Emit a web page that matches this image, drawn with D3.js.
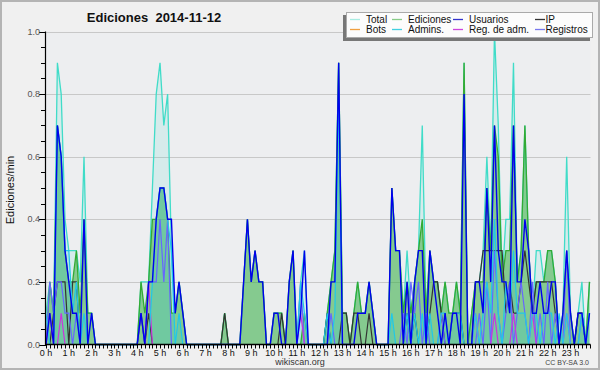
<!DOCTYPE html>
<html><head><meta charset="utf-8">
<script src="https://cdn.jsdelivr.net/npm/d3@7/dist/d3.min.js"></script>
<style>
html,body{margin:0;padding:0;background:#f0f0f0;}
svg{display:block;font-family:"Liberation Sans",Arial,sans-serif;}
</style>
</head><body>
<svg id="c" width="600" height="370"></svg>
<script>
const title = "Ediciones  2014-11-12";
const yLabel = "Ediciones/min";
const footer = "wikiscan.org";
const license = "CC BY-SA 3.0";
const hourLabels = d3.range(24).map(h => h + " h");
const yTickLabels = [0, 0.2, 0.4, 0.6, 0.8, 1.0];
const legendNames = ["Total", "Ediciones", "Usuarios", "IP", "Bots", "Admins.", "Reg. de adm.", "Registros"];

// 10-minute slots, one row per hour
const total = [
 0.1,0.2,0.1,0.9,0.8,0.4,
 0.3,0.3,0.3,0.2,0.6,0.1,
 0.1,0,0,0,0,0,
 0,0,0,0,0,0,
 0,0.2,0.2,0.2,0.5,0.8,
 0.9,0.7,0.8,0.3,0.1,0.2,
 0.1,0,0,0,0,0,
 0,0,0,0,0,0.1,
 0,0,0,0,0.2,0.4,
 0.2,0.3,0.2,0.2,0,0,
 0.1,0.1,0.1,0,0.2,0.3,
 0,0.2,0.3,0,0,0,
 0,0,0.1,0.2,0.3,0.9,
 0.1,0.1,0,0.1,0.2,0.1,
 0.1,0.2,0.1,0,0,0,
 0,0.5,0.3,0.3,0.1,0.3,
 0.1,0.2,0.3,0.7,0.1,0.3,
 0.2,0.2,0.1,0.2,0.1,0.1,
 0.2,0.1,0.9,0,0.1,0.2,
 0.2,0.3,0.6,0.3,1.0,0.7,
 0.2,0.4,0.4,0.9,0.2,0.3,
 0.7,0.3,0.1,0.3,0.3,0.2,
 0.3,0.3,0.2,0,0.1,0.6,
 0.1,0,0.1,0.2,0,0.2
];
const ediciones = [
 0,0.2,0.1,0.7,0.6,0.3,
 0.2,0.2,0.3,0.1,0.4,0.1,
 0.1,0,0,0,0,0,
 0,0,0,0,0,0,
 0,0.2,0.1,0.2,0.4,0.4,
 0.5,0.5,0.4,0.1,0.1,0.2,
 0.1,0,0,0,0,0,
 0,0,0,0,0,0.1,
 0,0,0,0,0.2,0.4,
 0.2,0.3,0.2,0.2,0,0,
 0.1,0.1,0.1,0,0.2,0.3,
 0,0,0.1,0,0,0,
 0,0,0.1,0.2,0.3,0.9,
 0.1,0.1,0,0.1,0.2,0.1,
 0.1,0.2,0.1,0,0,0,
 0,0.5,0.3,0.3,0.1,0.2,
 0.1,0.2,0.3,0.4,0.1,0.3,
 0.2,0.2,0.1,0.2,0.1,0.1,
 0.2,0.1,0.9,0,0.1,0.2,
 0.2,0.2,0.5,0.3,0.7,0.6,
 0.2,0.3,0.3,0.7,0.2,0.3,
 0.7,0.3,0.1,0.2,0.2,0.2,
 0.3,0.3,0.2,0,0.1,0.3,
 0.1,0,0.1,0.1,0,0.2
];
const usuarios = [
 0,0.1,0,0.7,0.6,0.3,
 0.2,0.1,0.1,0,0.4,0,
 0.1,0,0,0,0,0,
 0,0,0,0,0,0,
 0,0.1,0,0.2,0.2,0.4,
 0.5,0.5,0.4,0.4,0.1,0.2,
 0.1,0,0,0,0,0,
 0,0,0,0,0,0,
 0,0,0,0,0.2,0.4,
 0.2,0.3,0.2,0.2,0,0,
 0.1,0.1,0,0,0.2,0.3,
 0,0.1,0.3,0,0,0,
 0,0,0,0.2,0.2,0.9,
 0,0,0,0,0.1,0.1,
 0.1,0.2,0.1,0,0,0,
 0,0.5,0.3,0.3,0,0.2,
 0,0.2,0.3,0.3,0,0.3,
 0.2,0.1,0,0.1,0,0.1,
 0.1,0,0.8,0,0,0.2,
 0.2,0.1,0.5,0.2,0.7,0.3,
 0.2,0.2,0.1,0.7,0.2,0.2,
 0.4,0.3,0.1,0.1,0.2,0.1,
 0.1,0.2,0.2,0,0.1,0.3,
 0.1,0,0.1,0.1,0,0.1
];
const ip = [
 0,0,0.1,0.2,0.2,0.2,
 0,0.2,0.2,0,0,0,
 0,0,0,0,0,0,
 0,0,0,0,0,0,
 0,0.1,0,0.1,0,0,
 0,0,0,0,0,0,
 0,0,0,0,0,0,
 0,0,0,0,0,0.1,
 0,0,0,0,0,0,
 0,0,0,0,0,0,
 0,0,0.1,0,0,0,
 0,0,0,0,0,0,
 0,0,0.1,0,0,0,
 0.1,0.1,0,0.1,0.1,0,
 0,0.1,0,0,0,0,
 0,0,0,0,0,0.1,
 0,0.1,0,0,0,0.1,
 0.2,0.2,0.1,0,0,0.1,
 0.1,0.1,0,0,0,0.2,
 0.2,0.3,0.3,0.3,0.3,0.3,
 0.3,0.1,0.2,0.1,0.1,0.2,
 0.3,0.2,0.1,0.2,0.2,0.2,
 0.2,0.2,0.1,0,0,0,
 0,0,0.1,0.1,0,0
];
const bots = new Array(144).fill(0);
const admins = [
 0.1,0,0,0.7,0.6,0.3,
 0.3,0.1,0.2,0,0.1,0,
 0,0,0,0,0,0,
 0,0,0,0,0,0,
 0,0,0,0,0.2,0.4,
 0.5,0.5,0.4,0.3,0,0.1,
 0,0,0,0,0,0,
 0,0,0,0,0,0,
 0,0,0,0,0,0,
 0,0,0,0,0,0,
 0,0,0,0,0,0,
 0,0.2,0.1,0,0,0,
 0,0,0.1,0,0.1,0.8,
 0,0,0,0,0,0,
 0,0,0,0,0,0,
 0,0.1,0,0,0,0.1,
 0,0.1,0,0.1,0,0.1,
 0,0,0.1,0.1,0,0.1,
 0.1,0.1,0,0,0,0.1,
 0,0.1,0.2,0.1,0.4,0.1,
 0,0.2,0.1,0.3,0.1,0.1,
 0.1,0,0.1,0.1,0,0.1,
 0.1,0.1,0,0.1,0,0.1,
 0,0,0,0.1,0,0.1
];
const regAdm = [
 0,0.1,0,0,0.1,0,
 0,0,0,0,0,0,
 0,0,0,0,0,0,
 0,0,0,0,0,0,
 0,0,0,0.2,0,0,
 0,0,0,0,0,0,
 0,0,0,0,0,0,
 0,0,0,0,0,0,
 0,0,0,0,0,0,
 0,0,0,0,0,0,
 0,0,0,0,0,0,
 0,0.1,0,0,0,0,
 0,0,0,0,0,0,
 0,0,0,0,0,0,
 0,0,0,0,0,0,
 0,0,0,0,0,0,
 0,0,0,0,0,0,
 0,0,0,0,0,0,
 0,0,0,0,0,0.1,
 0,0,0,0,0.1,0,
 0,0,0,0.1,0,0,
 0,0,0.1,0,0,0,
 0,0,0,0,0,0.1,
 0,0,0,0,0,0
];
const registros = [
 0,0.2,0.1,0.2,0.2,0.1,
 0.1,0,0.1,0,0,0,
 0,0,0,0,0,0,
 0,0,0,0,0,0,
 0,0.1,0,0.2,0.2,0.2,
 0.4,0.2,0.4,0,0,0,
 0,0,0,0,0,0,
 0,0,0,0,0,0,
 0,0,0,0,0,0,
 0,0,0,0,0,0,
 0,0,0,0,0,0,
 0,0.2,0,0,0,0,
 0,0,0,0.1,0,0,
 0,0,0,0,0,0,
 0,0,0,0,0,0,
 0,0,0,0,0.1,0,
 0.2,0.1,0.2,0,0.1,0,
 0,0,0.1,0,0,0,
 0,0,0,0,0,0,
 0.1,0,0.2,0,0.3,0.1,
 0,0.1,0.2,0,0.1,0.2,
 0.1,0,0.2,0,0.1,0,
 0.2,0,0.1,0,0,0.3,
 0,0,0,0.1,0,0
];

const colors = {
  total: "#40dcc8", ediciones: "#33aa33", usuarios: "#0000ee", ip: "#333333",
  bots: "#f0a030", admins: "#20c8e8", regAdm: "#cc33dd", registros: "#6666ff"
};
const legendColors = ["#a8ece2", "#88cc88", "#3333cc", "#333333", "#f0a040", "#40d0e0", "#cc44dd", "#7777ee"];

const svg = d3.select("#c");
const W = 600, H = 370;
const pL = 46, pR = 589.5, pT = 31.5, pB = 344.5;

svg.append("rect").attr("x", 0).attr("y", 0).attr("width", W).attr("height", H).attr("fill", "#f0f0f0");
svg.append("rect").attr("x", 1).attr("y", 1).attr("width", W - 2).attr("height", H - 2)
  .attr("fill", "none").attr("stroke", "#b4b4b4").attr("stroke-width", 2);

const x = d3.scaleLinear().domain([0, 143]).range([pL, pR]);
const y = d3.scaleLinear().domain([0, 1]).range([pB, pT]);

svg.append("rect").attr("x", pL).attr("y", pT).attr("width", pR - pL + 1).attr("height", pB - pT)
  .attr("fill", "#edeef0");

// grid
svg.append("g").selectAll("line").data(yTickLabels.filter(v => v > 0)).join("line")
  .attr("x1", pL).attr("x2", pR + 1).attr("y1", d => Math.round(y(d)) + 0.5).attr("y2", d => Math.round(y(d)) + 0.5)
  .attr("stroke", "#c8c8c8").attr("stroke-width", 1);

const idx = d3.range(144);
const areaGen = arr => d3.area().x(i => x(i)).y0(y(0)).y1(i => y(arr[i]))(idx);
const lineGen = arr => d3.line().x(i => x(i)).y(i => y(arr[i]))(idx);

const plot = svg.append("g");
plot.append("path").attr("d", areaGen(total)).attr("fill", colors.total).attr("fill-opacity", 0.13);
plot.append("path").attr("d", areaGen(ediciones)).attr("fill", colors.ediciones).attr("fill-opacity", 0.5);
plot.append("path").attr("d", areaGen(admins)).attr("fill", colors.admins).attr("fill-opacity", 0.2);

const lines = [
  [total, colors.total, 1.3],
  [ediciones, colors.ediciones, 1.3],
  [ip, colors.ip, 1.2],
  [bots, colors.bots, 1.2],
  [registros, colors.registros, 1.2],
  [regAdm, colors.regAdm, 1.2],
  [admins, colors.admins, 1.2],
  [usuarios, colors.usuarios, 1.4]
];
lines.forEach(([arr, c, w]) => {
  plot.append("path").attr("d", lineGen(arr)).attr("fill", "none").attr("stroke", c)
    .attr("stroke-width", w).attr("stroke-linejoin", "miter");
});

// axes
const yAxis = svg.append("g");
yAxis.append("line").attr("x1", pL - 0.5).attr("x2", pL - 0.5).attr("y1", pT).attr("y2", pB + 1)
  .attr("stroke", "#000").attr("stroke-width", 1.2);
yAxis.selectAll("line.t").data(d3.range(0, 21)).join("line").attr("class", "t")
  .attr("x1", d => d % 4 === 0 ? pL - 7 : pL - 5).attr("x2", pL)
  .attr("y1", d => Math.round(y(d * 0.05)) + 0.5).attr("y2", d => Math.round(y(d * 0.05)) + 0.5)
  .attr("stroke", "#000").attr("stroke-width", 1);
yAxis.selectAll("text").data(yTickLabels).join("text")
  .attr("x", pL - 6).attr("y", d => y(d) + 3).attr("text-anchor", "end")
  .attr("font-size", 9).attr("fill", "#555").text(d => d.toFixed(1));

const xAxis = svg.append("g");
xAxis.append("line").attr("x1", pL - 1).attr("x2", pR + 1).attr("y1", pB).attr("y2", pB)
  .attr("stroke", "#000").attr("stroke-width", 1.5);
xAxis.selectAll("line.t").data(idx).join("line").attr("class", "t")
  .attr("x1", i => Math.round(x(i)) + 0.5).attr("x2", i => Math.round(x(i)) + 0.5)
  .attr("y1", pB).attr("y2", pB + 4).attr("stroke", "#000").attr("stroke-width", 1);
xAxis.selectAll("text").data(hourLabels).join("text")
  .attr("x", (d, h) => x(h * 6)).attr("y", pB + 11).attr("text-anchor", "middle")
  .attr("font-size", 9).attr("fill", "#111").text(d => d);

// titles
svg.append("text").attr("x", 154).attr("y", 22).attr("text-anchor", "middle")
  .attr("font-size", 13).attr("font-weight", "bold").attr("fill", "#111")
  .style("white-space", "pre").text(title);
svg.append("text").attr("transform", "translate(14,190) rotate(-90)").attr("text-anchor", "middle")
  .attr("font-size", 11).attr("fill", "#111").text(yLabel);
svg.append("text").attr("x", 300).attr("y", 365).attr("text-anchor", "middle")
  .attr("font-size", 9).attr("fill", "#333").text(footer);
svg.append("text").attr("x", 589).attr("y", 365).attr("text-anchor", "end")
  .attr("font-size", 7).attr("fill", "#444").text(license);

// legend
const lg = svg.append("g");
lg.append("rect").attr("x", 343).attr("y", 15).attr("width", 247).attr("height", 26).attr("fill", "#777");
lg.append("rect").attr("x", 346.5).attr("y", 12.5).attr("width", 246).attr("height", 25)
  .attr("fill", "#fcfcfc").attr("stroke", "#aaa").attr("stroke-width", 1);
const colX = [350, 392, 453, 535];
const rowY = [19.5, 29.5];
legendNames.forEach((name, k) => {
  const cx = colX[k % 4], cy = rowY[Math.floor(k / 4)];
  lg.append("line").attr("x1", cx).attr("x2", cx + 10).attr("y1", cy).attr("y2", cy)
    .attr("stroke", legendColors[k]).attr("stroke-width", 1.3);
  lg.append("text").attr("x", cx + (k % 4 === 3 ? 10.5 : 16)).attr("y", cy + 3.5)
    .attr("font-size", 10).attr("fill", "#111").text(name);
});
</script>
</body></html>
